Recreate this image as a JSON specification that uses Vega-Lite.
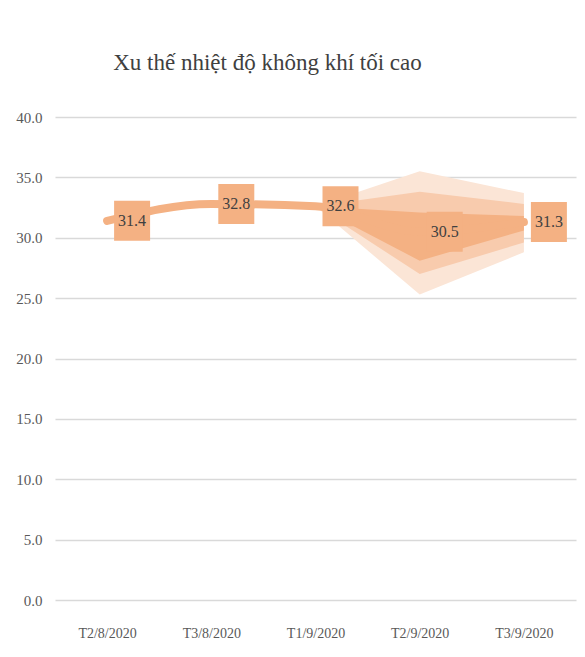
{
  "$schema": "https://vega.github.io/schema/vega-lite/v6.json",
  "width": 521,
  "height": 483,
  "autosize": {"type": "none"},
  "padding": {"left": 55, "top": 117, "right": 9, "bottom": 57},
  "background": "white",
  "title": {
    "text": "Xu thế nhiệt độ không khí tối cao",
    "font": "Liberation Serif",
    "fontSize": 23,
    "fontWeight": "normal",
    "color": "#404040",
    "dx": -48,
    "offset": 35
  },
  "config": {"view": {"stroke": null}},
  "datasets": {
    "main": [
      {"thang": "T2/8/2020", "nhiet_do": 31.4},
      {"thang": "T3/8/2020", "nhiet_do": 32.8},
      {"thang": "T1/9/2020", "nhiet_do": 32.6},
      {"thang": "T2/9/2020", "nhiet_do": 30.5},
      {"thang": "T3/9/2020", "nhiet_do": 31.3}
    ],
    "fan": [
      {"thang": "T1/9/2020", "ngoai_min": 32.6, "ngoai_max": 32.6, "giua_min": 32.6, "giua_max": 32.6, "trong_min": 32.6, "trong_max": 32.6},
      {"thang": "T2/9/2020", "ngoai_min": 25.3, "ngoai_max": 35.5, "giua_min": 27.0, "giua_max": 33.8, "trong_min": 28.1, "trong_max": 32.1},
      {"thang": "T3/9/2020", "ngoai_min": 28.8, "ngoai_max": 33.7, "giua_min": 29.6, "giua_max": 32.8, "trong_min": 30.6, "trong_max": 31.8}
    ]
  },
  "encoding": {
    "x": {
      "field": "thang",
      "type": "ordinal",
      "scale": {"type": "point", "padding": 0.5, "domain": ["T2/8/2020", "T3/8/2020", "T1/9/2020", "T2/9/2020", "T3/9/2020"]},
      "axis": {
        "title": null,
        "labelAngle": 0,
        "domain": false,
        "ticks": false,
        "grid": false,
        "labelPadding": 26,
        "labelFont": "Liberation Serif",
        "labelFontSize": 14,
        "labelColor": "#595959"
      }
    }
  },
  "layer": [
    {
      "data": {"name": "fan"},
      "mark": {"type": "area", "color": "#FBE5D6", "opacity": 1},
      "encoding": {
        "y": {
          "field": "ngoai_min",
          "type": "quantitative",
          "scale": {"domain": [0, 40], "nice": false},
          "axis": {
            "title": null,
            "values": [0, 5, 10, 15, 20, 25, 30, 35, 40],
            "format": ".1f",
            "domain": false,
            "ticks": false,
            "grid": true,
            "gridColor": "#D9D9D9",
            "gridWidth": 1.5,
            "labelPadding": 13,
            "labelFont": "Liberation Serif",
            "labelFontSize": 15,
            "labelColor": "#595959"
          }
        },
        "y2": {"field": "ngoai_max"}
      }
    },
    {
      "data": {"name": "fan"},
      "mark": {"type": "area", "color": "#F8CBAD", "opacity": 1},
      "encoding": {
        "y": {"field": "giua_min", "type": "quantitative"},
        "y2": {"field": "giua_max"}
      }
    },
    {
      "data": {"name": "fan"},
      "mark": {"type": "area", "color": "#F4B183", "opacity": 1},
      "encoding": {
        "y": {"field": "trong_min", "type": "quantitative"},
        "y2": {"field": "trong_max"}
      }
    },
    {
      "data": {"name": "main"},
      "mark": {"type": "line", "color": "#F4B183", "strokeWidth": 8, "strokeCap": "round", "interpolate": "monotone"},
      "encoding": {
        "y": {"field": "nhiet_do", "type": "quantitative"}
      }
    },
    {
      "data": {"name": "main"},
      "mark": {"type": "point", "shape": "M0.35,-1H2.15V1H0.35Z", "filled": true, "size": 1600, "color": "#F4B183", "opacity": 1},
      "encoding": {
        "y": {"field": "nhiet_do", "type": "quantitative"}
      }
    },
    {
      "data": {"name": "main"},
      "mark": {"type": "text", "dx": 25, "align": "center", "baseline": "middle", "font": "Liberation Serif", "fontSize": 16, "color": "#404040"},
      "encoding": {
        "y": {"field": "nhiet_do", "type": "quantitative"},
        "text": {"field": "nhiet_do", "type": "quantitative", "format": ".1f"}
      }
    }
  ]
}
